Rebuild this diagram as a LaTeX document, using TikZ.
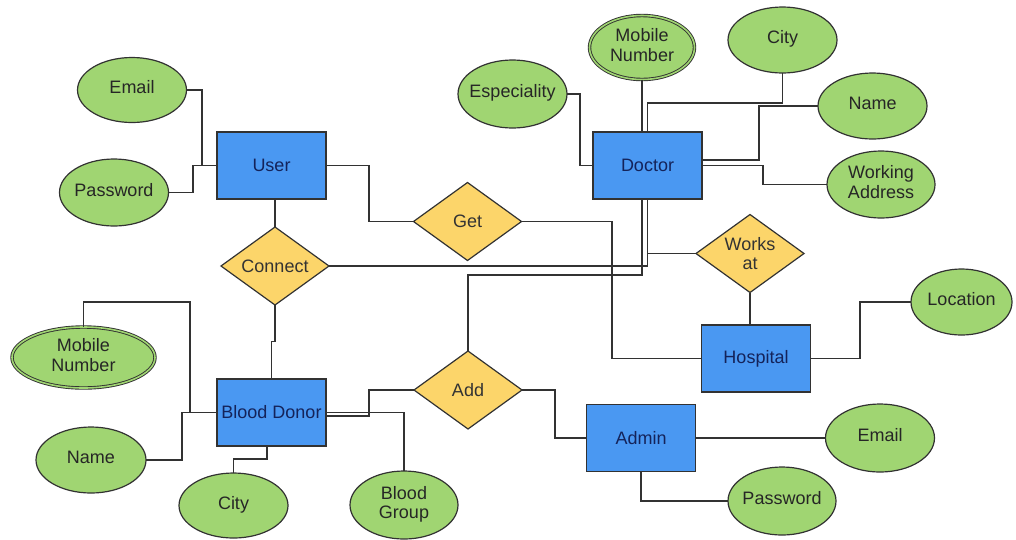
\documentclass[tikz,border=0pt]{standalone}
\usepackage{fontspec}
\setmainfont{Liberation Sans}
\usetikzlibrary{shapes.geometric}
\definecolor{entblue}{RGB}{74,152,242}
\definecolor{attgreen}{RGB}{160,213,114}
\definecolor{relyellow}{RGB}{252,213,106}
\definecolor{linegray}{RGB}{50,50,50}
\definecolor{navytext}{RGB}{20,35,90}
\newcommand{\etxt}[1]{\makebox[0pt]{\begin{tabular}{@{}c@{}}#1\end{tabular}}}
\begin{document}
\begin{tikzpicture}[x=1pt,y=-1pt,
  every node/.style={font=\fontsize{18}{19.5}\selectfont, outer sep=0pt},
  entity/.style={rectangle, draw=linegray, line width=1.3pt, fill=entblue, text=navytext,
    minimum width=109pt, minimum height=67pt, inner sep=0pt},
  attr/.style={ellipse, draw=linegray, line width=1.2pt, fill=attgreen, text=black!85,
    minimum width=109pt, minimum height=66pt, inner sep=0pt},
  mattr/.style={attr, double=attgreen, double distance=1.6pt, line width=0.9pt},
  rel/.style={diamond, aspect=1.4, draw=linegray, line width=1.2pt, fill=relyellow, text=black!80,
    minimum width=108pt, minimum height=78pt, inner sep=0pt, align=center},
  conn/.style={draw=linegray, line width=1.3pt}]
\useasboundingbox (0,0) rectangle (1016,539);

% entities
\node[entity] (user) at (271.5,165.5) {User};
\node[entity] (doctor) at (647.5,165.5) {Doctor};
\node[entity] (donor) at (271.5,412.5) {Blood Donor};
\node[entity] (hospital) at (756,358.5) {Hospital};
\node[entity] (admin) at (641,438) {Admin};

% relationships
\node[rel] (connect) at (275,266) {Connect};
\node[rel] (get) at (467.5,221.5) {Get};
\node[rel] (works) at (750,253.5) {Works\\at};
\node[rel] (add) at (468,390) {Add};

% attributes
\node[attr, minimum height=65pt] (uemail) at (132,90) {\etxt{Email}};
\node[attr, minimum height=67pt] (upass) at (114,192.5) {\etxt{Password}};
\node[mattr, minimum width=105pt, minimum height=64pt] (dmob) at (642,47.5) {\etxt{Mobile\\Number}};
\node[attr, minimum height=68pt] (dspec) at (512.5,94) {\etxt{Especiality}};
\node[attr] (dcity) at (782.5,40) {\etxt{City}};
\node[attr] (dname) at (872.5,106) {\etxt{Name}};
\node[attr, minimum width=108pt, minimum height=67pt] (dwork) at (881,184.5) {\etxt{Working\\Address}};
\node[attr, minimum width=101pt] (hloc) at (961.5,302) {\etxt{Location}};
\node[attr, minimum height=68pt] (aemail) at (880,438) {\etxt{Email}};
\node[attr, minimum width=108pt, minimum height=68pt] (apass) at (782,501) {\etxt{Password}};
\node[mattr, minimum width=143pt, minimum height=61pt] (bmob) at (83.5,357.5) {\etxt{Mobile\\Number}};
\node[attr, minimum width=110pt] (bname) at (91,460) {\etxt{Name}};
\node[attr, minimum height=65pt] (bcity) at (233.5,505.5) {\etxt{City}};
\node[attr, minimum width=108pt, minimum height=68pt] (bgroup) at (404,505) {\etxt{Blood\\Group}};

\coordinate (j1) at (642,275);
\coordinate (j2) at (190,302);

% user connectors
\draw[conn] (uemail.east) -| ([xshift=-15pt]user.west) -- (user.west);
\draw[conn] (upass.east) -| ([xshift=-24pt]user.west) -- (user.west);
\draw[conn] (user.east) -| ([xshift=-44.5pt]get.west) -- (get.west);
\draw[conn] (connect.north) -- (connect.north |- user.south);

% connect / works / add to doctor
\draw[conn] (connect.east) -| (doctor.south);
\draw[conn] (works.west) -- (works.west -| doctor.south);
\draw[conn] (add.north) |- (j1) -- (j1 |- doctor.south);

% get to hospital
\draw[conn] (get.east) -| ([xshift=-89.5pt]hospital.west) -- (hospital.west);
\draw[conn] (works.south) -- (works.south |- hospital.north);
\draw[conn] (hospital.east) -| ([xshift=-51pt]hloc.west) -- (hloc.west);

% admin
\draw[conn] (add.east) -| ([xshift=-31.5pt]admin.west) -- (admin.west);
\draw[conn] (admin.east) -- (aemail.west);
\draw[conn] (admin.south) |- (apass.west);

% blood donor
\draw[conn] ([yshift=-3.5pt]donor.east) -| ([xshift=-45pt]add.west) -- (add.west);
\draw[conn] (donor.east) -| (bgroup.north);
\draw[conn] ([xshift=-4.5pt]donor.south) -- ++(0,13) -| (bcity.north);
\draw[conn] (bmob.north) |- (j2) |- (donor.west);
\draw[conn] (bname.east) -| ([xshift=-35pt]donor.west) -- (donor.west);
\draw[conn] (connect.south) -- ++(0,36.5) -| (donor.north);

% doctor
\draw[conn] (dspec.east) -| ([xshift=-13pt]doctor.west) -- (doctor.west);
\draw[conn] (dmob.south) -- (dmob.south |- doctor.north);
\draw[conn] (doctor.north) -- ++(0,-29) -| (dcity.south);
\draw[conn] ([yshift=5.5pt]doctor.east) -| ([xshift=-59pt]dname.west) -- (dname.west);
\draw[conn] (doctor.east) -| ([xshift=-64pt]dwork.west) -- (dwork.west);
\end{tikzpicture}
\end{document}
